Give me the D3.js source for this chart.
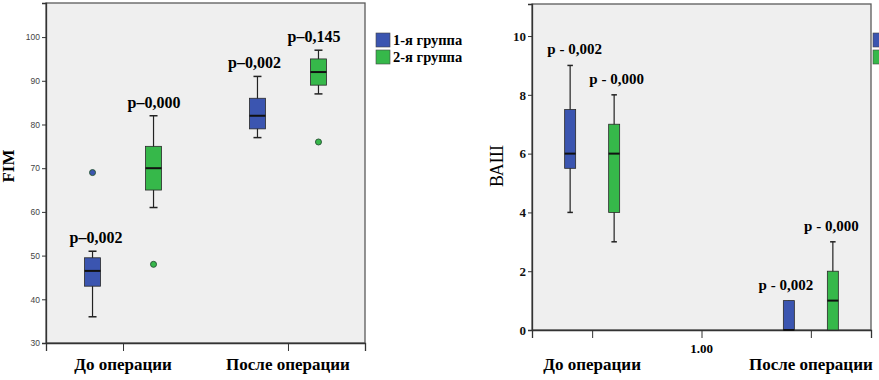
<!DOCTYPE html>
<html>
<head>
<meta charset="utf-8">
<script src="https://cdn.jsdelivr.net/npm/d3@7"></script>
<style>
  body { margin: 0; background: #fff; }
  svg { display: block; }
</style>
</head>
<body>
<div id="wrapper"></div>
<script>
// categories and groups
const periods = ["До операции", "После операции"]
const groups = ["1-я группа", "2-я группа"]
const groupColors = ["#3b55b0", "#36b84a"]

// FIM boxes: [period, group, low whisker, q1, median, q3, high whisker]
const fimBoxes = [
  ["До операции", "1-я группа", 36, 43, 46.5, 49.5, 51],
  ["До операции", "2-я группа", 61, 65, 70, 75, 82],
  ["После операции", "1-я группа", 77, 79, 82, 86, 91],
  ["После операции", "2-я группа", 87, 89, 92, 95, 97]
]
const fimOutliers = [
  ["До операции", "1-я группа", 69],
  ["До операции", "2-я группа", 48],
  ["После операции", "2-я группа", 76]
]
const fimLabels = ["p–0,002", "p–0,000", "p–0,002", "p–0,145"]
const fimTicks = [30, 40, 50, 60, 70, 80, 90, 100]

// ВАШ boxes
const vasBoxes = [
  ["До операции", "1-я группа", 4, 5.5, 6, 7.5, 9],
  ["До операции", "2-я группа", 3, 4, 6, 7, 8],
  ["После операции", "1-я группа", 0, 0, 0, 1, 1],
  ["После операции", "2-я группа", 0, 0, 1, 2, 3]
]
const vasLabels = ["p - 0,002", "p - 0,000", "p - 0,002", "p - 0,000"]
const vasTicks = [0, 2, 4, 6, 8, 10]
const vasXTicks = ["До операции", "1.00", "После операции"]

const svg = d3.select("#wrapper")
  .append("svg")
    .attr("width", 879)
    .attr("height", 380)

const serif = "'Liberation Serif', 'DejaVu Serif', serif"
const colorScale = d3.scaleOrdinal().domain(groups).range(groupColors)

function drawChart(opts) {
  const xScale = d3.scalePoint()
    .domain(opts.xDomain)
    .range([opts.left, opts.right])
    .padding(opts.xPadding)

  const groupScale = d3.scalePoint()
    .domain(groups)
    .range([-opts.offset, opts.offset])

  const yScale = d3.scaleLinear()
    .domain(opts.yDomain)
    .range([opts.bottom, opts.top])

  const cx = d => xScale(d[0]) + groupScale(d[1])

  // plot background
  svg.append("rect")
    .attr("x", opts.left)
    .attr("y", opts.top)
    .attr("width", opts.right - opts.left)
    .attr("height", opts.bottom - opts.top)
    .attr("fill", "#efefef")
    .attr("stroke", "#5a5a5a")
    .attr("stroke-width", 1.3)

  // y axis
  const yAxis = svg.append("g")
    .attr("transform", `translate(${opts.left},0)`)
    .call(d3.axisLeft(yScale).tickValues(opts.yTicks).tickSize(4).tickPadding(2))
  yAxis.select(".domain").attr("stroke", "#333").attr("stroke-width", 1.3)
  yAxis.selectAll(".tick line").attr("stroke", "#333")
  yAxis.selectAll("text")
    .attr("fill", opts.tickColor)
    .style("font-family", opts.tickFont)
    .style("font-size", opts.tickSize)
    .style("font-weight", opts.tickWeight)

  // x axis
  const xAxis = svg.append("g")
    .attr("transform", `translate(0,${opts.bottom})`)
    .call(d3.axisBottom(xScale).tickSize(8).tickFormat(""))
  xAxis.select(".domain").attr("stroke", "#333").attr("stroke-width", 1.3)
  xAxis.selectAll(".tick line").attr("stroke", "#333")

  // category labels
  svg.selectAll(null)
    .data(periods)
    .join("text")
      .attr("x", d => xScale(d))
      .attr("y", opts.catY)
      .attr("text-anchor", "middle")
      .style("font-family", serif)
      .style("font-weight", "bold")
      .style("font-size", "17px")
      .text(d => d)

  if (opts.midLabel) {
    svg.append("text")
      .attr("x", xScale(opts.midLabel))
      .attr("y", opts.bottom + 23)
      .attr("text-anchor", "middle")
      .style("font-family", serif)
      .style("font-weight", "bold")
      .style("font-size", "13px")
      .text(opts.midLabel)
  }

  // y label
  svg.append("text")
    .attr("transform", `translate(${opts.yLabelX},${opts.yLabelY}) rotate(-90)`)
    .attr("text-anchor", "middle")
    .style("font-family", serif)
    .style("font-weight", opts.yLabelWeight)
    .style("font-size", opts.yLabelSize)
    .text(opts.yLabel)

  const boxGroups = svg.selectAll(null)
    .data(opts.boxes)
    .join("g")

  const half = opts.boxWidth / 2

  // whiskers
  boxGroups.append("line")
    .attr("x1", cx).attr("x2", cx)
    .attr("y1", d => yScale(d[2]))
    .attr("y2", d => yScale(d[6]))
    .attr("stroke", "#222")
    .attr("stroke-width", 1.2)

  boxGroups.filter(d => d[2] < d[3]).append("line")
    .attr("x1", d => cx(d) - half / 2).attr("x2", d => cx(d) + half / 2)
    .attr("y1", d => yScale(d[2])).attr("y2", d => yScale(d[2]))
    .attr("stroke", "#222").attr("stroke-width", 1.5)

  boxGroups.filter(d => d[6] > d[5]).append("line")
    .attr("x1", d => cx(d) - half / 2).attr("x2", d => cx(d) + half / 2)
    .attr("y1", d => yScale(d[6])).attr("y2", d => yScale(d[6]))
    .attr("stroke", "#222").attr("stroke-width", 1.5)

  // boxes
  boxGroups.append("rect")
    .attr("x", d => cx(d) - half)
    .attr("y", d => yScale(d[5]))
    .attr("width", opts.boxWidth)
    .attr("height", d => yScale(d[3]) - yScale(d[5]))
    .attr("fill", d => colorScale(d[1]))
    .attr("stroke", "#2a2a2a")
    .attr("stroke-width", 0.8)

  // medians
  boxGroups.append("line")
    .attr("x1", d => cx(d) - half).attr("x2", d => cx(d) + half)
    .attr("y1", d => yScale(d[4])).attr("y2", d => yScale(d[4]))
    .attr("stroke", "#111")
    .attr("stroke-width", 2)

  // p labels
  boxGroups.append("text")
    .attr("x", (d, i) => cx(d) + opts.labelDx[i])
    .attr("y", d => yScale(d[6]) - opts.labelGap)
    .attr("text-anchor", "middle")
    .style("font-family", serif)
    .style("font-weight", "bold")
    .style("font-size", opts.labelSize)
    .text((d, i) => opts.labels[i])

  // outliers
  svg.selectAll(null)
    .data(opts.outliers || [])
    .join("circle")
      .attr("cx", cx)
      .attr("cy", d => yScale(d[2]))
      .attr("r", 3)
      .attr("fill", d => colorScale(d[1]))
      .attr("stroke", "#2d5a3a")
      .attr("stroke-width", 1)

  // legend (the right one is cut by the image edge, only the swatches show)
  const legend = svg.selectAll(null)
    .data(groups)
    .join("g")
      .attr("transform", (d, i) => `translate(${opts.legendX},${33 + i * 17})`)
  legend.append("rect")
    .attr("width", 14)
    .attr("height", 14)
    .attr("fill", d => colorScale(d))
    .attr("stroke", "#444")
    .attr("stroke-width", 0.6)
  if (opts.legendText) {
    legend.append("text")
      .attr("x", 17)
      .attr("y", 11.5)
      .style("font-family", serif)
      .style("font-weight", "bold")
      .style("font-size", "14.5px")
      .text(d => d)
  }
}

drawChart({
  left: 46, right: 365, top: 3, bottom: 343,
  xDomain: periods, xPadding: 0.467,
  yDomain: [30, 107.8], yTicks: fimTicks,
  offset: 30.5, boxWidth: 16,
  boxes: fimBoxes, outliers: fimOutliers, labels: fimLabels,
  labelDx: [3.5, 0.5, -3, -4.5], labelGap: 8, labelSize: "16px",
  tickColor: "#444", tickFont: "'Liberation Sans', Arial, sans-serif", tickSize: "8.5px", tickWeight: "normal",
  catY: 370,
  yLabel: "FIM", yLabelX: 14, yLabelY: 166, yLabelWeight: "bold", yLabelSize: "17px",
  legendX: 376, legendText: true
})

drawChart({
  left: 532, right: 871, top: 4, bottom: 330,
  xDomain: vasXTicks, xPadding: 0.55,
  yDomain: [0, 11.09], yTicks: vasTicks,
  offset: 22, boxWidth: 11,
  boxes: vasBoxes, outliers: [], labels: vasLabels,
  labelDx: [4.5, 2.5, -3, -1.5], labelGap: 11, labelSize: "15px",
  tickColor: "#111", tickFont: serif, tickSize: "13px", tickWeight: "bold",
  catY: 370, midLabel: "1.00",
  yLabel: "ВАШ", yLabelX: 503, yLabelY: 166, yLabelWeight: "normal", yLabelSize: "18px",
  legendX: 873, legendText: false
})
</script>
</body>
</html>
